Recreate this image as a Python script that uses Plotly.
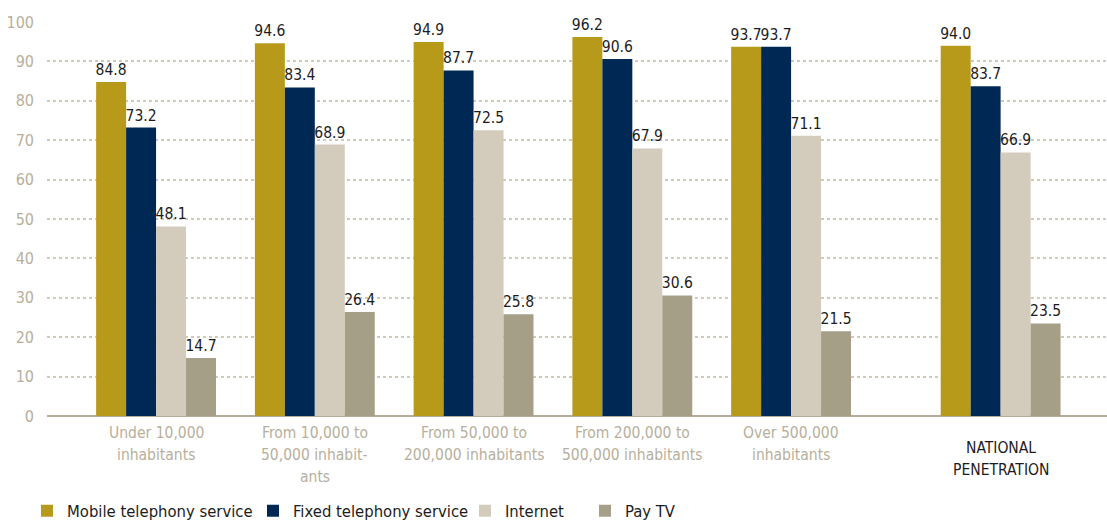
import plotly.graph_objects as go

# Household penetration of telecom services by municipality size (%)
categories = [
    "Under 10,000<br>inhabitants",
    "From 10,000 to<br>50,000 inhabit-<br>ants",
    "From 50,000 to<br>200,000 inhabitants",
    "From 200,000 to<br>500,000 inhabitants",
    "Over 500,000<br>inhabitants",
    "NATIONAL<br>PENETRATION",
]
mobile = [84.8, 94.6, 94.9, 96.2, 93.7, 94.0]
fixed = [73.2, 83.4, 87.7, 90.6, 93.7, 83.7]
internet = [48.1, 68.9, 72.5, 67.9, 71.1, 66.9]
pay_tv = [14.7, 26.4, 25.8, 30.6, 21.5, 23.5]
series_names = ["Mobile telephony service", "Fixed telephony service", "Internet", "Pay TV"]
y_ticks = list(range(0, 101, 10))

# Layout: the national total sits a little apart from the size bands
slot = [0, 1, 2, 3, 4, 5.32]

FONT = "Liberation Sans Narrow, DejaVu Sans Condensed, Arial Narrow, sans-serif"
TAN = "#b7af9c"
INK = "#1c1c1c"
colors = ["#b89a1a", "#002855", "#d3ccbd", "#a69f88"]
series = [mobile, fixed, internet, pay_tv]
legend_ids = ["legend", "legend2", "legend3", "legend4"]
legend_x_px = [27, 253, 465, 585]
LINE_GAP = 22  # px between category label lines

W, H = 1107, 524

fig = go.Figure()
for name, vals, col, lg in zip(series_names, series, colors, legend_ids):
    fig.add_trace(go.Bar(
        x=slot, y=vals, name=name, marker=dict(color=col, line=dict(width=0)),
        text=[f"{v:.1f}" for v in vals], textposition="outside",
        textfont=dict(family=FONT, size=15.5, color=INK),
        constraintext="none", cliponaxis=False, legend=lg,
        hovertemplate="%{y:.1f}<extra>" + name + "</extra>",
    ))

# Category labels under each group, one annotation per line for wider leading
for i, (pos, lab) in enumerate(zip(slot, categories)):
    national = i == len(categories) - 1
    first = -17 if not national else -32
    for j, line in enumerate(lab.split("<br>")):
        fig.add_annotation(
            x=pos, xref="x", y=0, yref="paper", yanchor="middle",
            yshift=first - j * LINE_GAP,
            text=line, showarrow=False, align="center",
            font=dict(family=FONT, size=15.5, color=INK if national else TAN),
        )

legend_common = dict(
    orientation="h", xref="container", yref="container",
    yanchor="middle", xanchor="left", y=1 - 511 / H,
    font=dict(family=FONT, size=16.5, color=INK),
    bgcolor="rgba(0,0,0,0)", borderwidth=0, itemclick=False,
)
layout_legends = {}
for lg, xp in zip(legend_ids, legend_x_px):
    layout_legends[lg] = dict(legend_common, x=xp / W)

fig.update_layout(
    width=W, height=H,
    margin=dict(l=47, r=0, t=22, b=108),
    paper_bgcolor="white", plot_bgcolor="white",
    barmode="group", bargap=0.245, bargroupgap=0,
    showlegend=True,
    xaxis=dict(
        range=[-0.687, 5.99], showticklabels=False, showgrid=False,
        zeroline=False, showline=False, ticks="",
    ),
    yaxis=dict(
        range=[0, 100], tickvals=y_ticks, ticks="", ticklabelstandoff=12,
        tickfont=dict(family=FONT, size=16, color=TAN),
        showgrid=True, gridcolor="#d2cab8", gridwidth=1.5, griddash="dot",
        zeroline=True, zerolinecolor="#b5ad9a", zerolinewidth=2,
        showline=False,
    ),
    **layout_legends,
)

fig.write_html("out.html")
